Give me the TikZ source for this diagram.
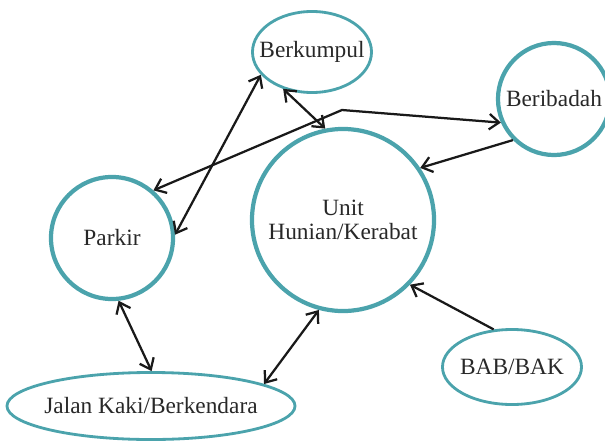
\documentclass[tikz,border=0pt]{standalone}
\usepackage{fontspec}
\setmainfont{Liberation Serif}
\usepackage{xcolor}
\usepackage{tikz}
\usetikzlibrary{shapes.geometric, arrows.meta, positioning, calc}
\definecolor{tosca}{RGB}{75,163,172}
\definecolor{teks}{RGB}{40,40,40}

\begin{document}
\begin{tikzpicture}[x=0.025cm, y=-0.025cm,
        font=\fontsize{16.6}{17}\selectfont, text=teks,
        bulat/.style={circle, draw=tosca, line width=3pt, inner sep=0pt},
        lonjong/.style={ellipse, draw=tosca, line width=2pt, inner sep=0pt},
        panah/.style={draw=black!90, line width=1.6pt, >={Straight Barb[length=7pt,width=11pt]}}]
        \useasboundingbox (0,0) rectangle (605,441);

        % Lingkaran
        \node[bulat, minimum size=4.55cm, align=center] (unit) at (343,220) {Unit\\Hunian/Kerabat};
        \node[bulat, minimum size=3.05cm] (parkir) at (112,238) {Parkir};
        \node[bulat, minimum size=2.8cm] (beribadah) at (554,99) {Beribadah};

        % Elips (teks sebagai label agar ukuran tetap)
        \node[lonjong, minimum width=2.975cm, minimum height=2.025cm, label=center:Berkumpul] (berkumpul) at (312,52) {};
        \node[lonjong, minimum width=7.2cm, minimum height=1.675cm, label=center:Jalan Kaki/Berkendara] (jalan) at (151,406) {};
        \node[lonjong, minimum width=3.475cm, minimum height=1.875cm, label=center:BAB/BAK] (bab) at (512,367) {};

        % Titik tekuk garis Parkir - Beribadah
        \coordinate (tekuk) at (342,110);

        % Panah
        \draw[panah, <->] (parkir.3) -- (berkumpul.204);
        \draw[panah, <->] (berkumpul.232) -- (unit.101);
        \draw[panah, <->] (parkir.49) -- (tekuk) -- (beribadah.204);
        \draw[panah, ->] (beribadah.225) -- (unit.34);
        \draw[panah, <->] (parkir.276) -- (jalan.89);
        \draw[panah, <->] (unit.255) -- (jalan.11);
        \draw[panah, ->] (bab.116) -- (unit.316);

    \end{tikzpicture}
\end{document}
